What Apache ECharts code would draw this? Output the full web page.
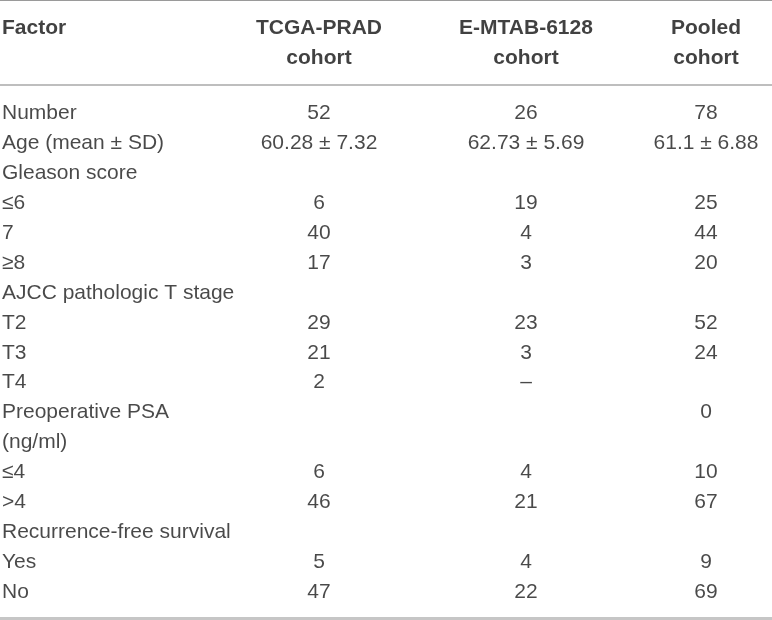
<!DOCTYPE html>
<html>
<head>
<meta charset="utf-8">
<title>Cohort characteristics</title>
<script src="https://cdn.jsdelivr.net/npm/echarts@6/dist/echarts.min.js"></script>
<style>
    html, body { margin: 0; padding: 0; background: #fff; }
    #main { width: 772px; height: 620px; }
</style>
</head>
<body>
<div id="main"></div>
<script>
// table content
var headers = ['Factor\n ', 'TCGA-PRAD\ncohort', 'E-MTAB-6128\ncohort', 'Pooled\ncohort'];

var factors = ['Number', 'Age (mean \u00b1 SD)', 'Gleason score', '\u22646', '7', '\u22658',
    'AJCC pathologic T stage', 'T2', 'T3', 'T4', 'Preoperative PSA', '(ng/ml)',
    '\u22644', '>4', 'Recurrence-free survival', 'Yes', 'No'];

var tcga = ['52', '60.28 \u00b1 7.32', '', '6', '40', '17', '', '29', '21', '2', '', '',
    '6', '46', '', '5', '47'];

var emtab = ['26', '62.73 \u00b1 5.69', '', '19', '4', '3', '', '23', '3', '\u2013', '', '',
    '4', '21', '', '4', '22'];

var pooled = ['78', '61.1 \u00b1 6.88', '', '25', '44', '20', '', '52', '24', '', '0', '',
    '10', '67', '', '9', '69'];

var columns = [factors, tcga, emtab, pooled];

// layout: x position of each column on a 0..772 axis
var colX = [2, 319, 526, 706];
var font = 'Liberation Sans, Arial, Helvetica, sans-serif';

var myChart = echarts.init(document.getElementById('main'));

var series = [];
columns.forEach(function (col, c) {
    // header cell
    series.push({
        type: 'scatter',
        xAxisIndex: 0,
        yAxisIndex: 0,
        symbolSize: 1,
        itemStyle: {color: 'rgba(0,0,0,0)'},
        silent: true,
        data: [{value: [colX[c], 0], name: headers[c]}],
        label: {
            show: true,
            position: 'inside',
            align: c === 0 ? 'left' : 'center',
            verticalAlign: 'middle',
            formatter: '{b}',
            fontFamily: font,
            fontSize: 21,
            fontWeight: 'bold',
            lineHeight: 30,
            color: '#111'
        }
    });
    // body cells
    var data = [];
    col.forEach(function (txt, i) {
        if (txt !== '') {
            data.push({value: [colX[c], i], name: txt});
        }
    });
    series.push({
        type: 'scatter',
        xAxisIndex: 2,
        yAxisIndex: 1,
        symbolSize: 1,
        itemStyle: {color: 'rgba(0,0,0,0)'},
        silent: true,
        data: data,
        label: {
            show: true,
            position: 'inside',
            align: c === 0 ? 'left' : 'center',
            verticalAlign: 'middle',
            formatter: '{b}',
            fontFamily: font,
            fontSize: 21,
            color: '#1c1c1c'
        }
    });
});

function lineAxis(grid, pos, color, width, offset) {
    return {
        gridIndex: grid,
        type: 'value',
        min: 0,
        max: 772,
        position: pos,
        offset: offset || 0,
        axisLine: {show: true, lineStyle: {color: color, width: width}},
        axisTick: {show: false},
        axisLabel: {show: false},
        splitLine: {show: false}
    };
}

var option = {
    animation: false,
    grid: [
        {left: 0, right: 0, top: 0.5, height: 84.5},
        {left: 0, right: 0, top: 98.5, height: 508.5}
    ],
    xAxis: [
        lineAxis(0, 'top', '#9a9a9a', 1),
        lineAxis(0, 'bottom', '#a8a8a8', 1.5),
        lineAxis(1, 'bottom', '#c6c6c6', 3, 11.5)
    ],
    yAxis: [
        {gridIndex: 0, type: 'category', data: ['header'], show: false},
        {gridIndex: 1, type: 'category', data: factors, inverse: true, show: false}
    ],
    series: series
};

myChart.setOption(option);
</script>
</body>
</html>
